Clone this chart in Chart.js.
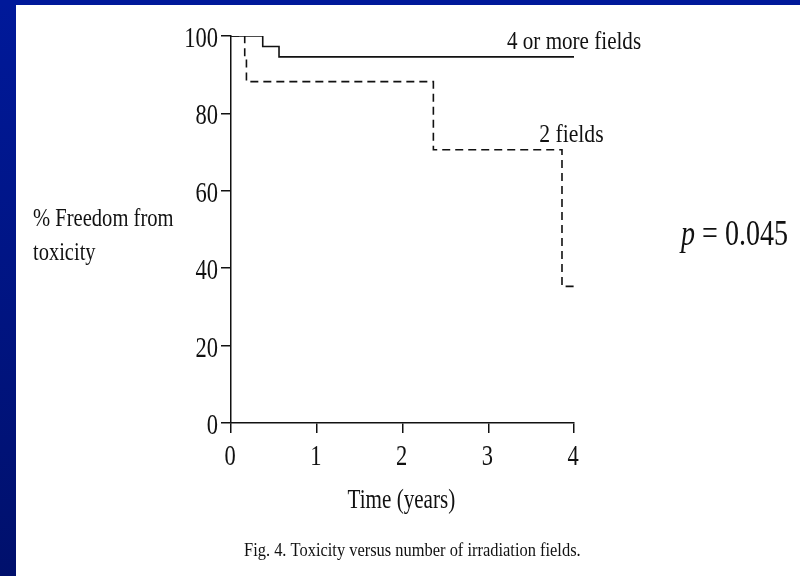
<!DOCTYPE html>
<html>
<head>
<meta charset="utf-8">
<script src="https://cdn.jsdelivr.net/npm/chart.js@4/dist/chart.umd.min.js"></script>
<style>
  html, body { margin: 0; padding: 0; background: #fff; }
  #wrap { width: 800px; height: 576px; position: relative; }
  canvas { display: block; }
</style>
</head>
<body>
<div id="wrap"><canvas id="km" width="800" height="576"></canvas></div>
<script>
// Kaplan-Meier estimates: event times (years) and survival (%) after each event
const timeMany = [0, 0.37, 0.56, 4.0];
const freedomMany = [100, 97.3, 94.6, 94.6];
const timeTwo = [0, 0.16, 0.18, 2.36, 3.86, 4.0];
const freedomTwo = [100, 94.1, 88.2, 70.6, 35.3, 35.3];

const xTicks = [0, 1, 2, 3, 4];
const yTicks = [0, 20, 40, 60, 80, 100];

const seriesNames = ['4 or more fields', '2 fields'];
const yTitleLines = ['% Freedom from', 'toxicity'];
const xTitle = 'Time (years)';
const pValue = '0.045';
const caption = 'Fig. 4. Toxicity versus number of irradiation fields.';

const SERIF = '"Liberation Serif", "Times New Roman", serif';
const INK = '#111';

const toPoints = (xs, ys) => xs.map((x, i) => ({ x: x, y: ys[i] }));

// draw text squeezed horizontally so that its ink spans a given width
function fitText(ctx, text, left, baseline, font, width) {
  ctx.save();
  ctx.font = font;
  ctx.textAlign = 'left';
  ctx.textBaseline = 'alphabetic';
  const m = ctx.measureText(text);
  const ink = m.actualBoundingBoxLeft + m.actualBoundingBoxRight;
  const s = width / ink;
  ctx.translate(left, baseline);
  ctx.scale(s, 1);
  ctx.fillText(text, m.actualBoundingBoxLeft, 0);
  ctx.restore();
}

// draw text with a fixed horizontal squeeze and alignment
function squeezedText(ctx, text, x, baseline, font, sx, align) {
  ctx.save();
  ctx.font = font;
  ctx.textAlign = align;
  ctx.textBaseline = 'alphabetic';
  ctx.translate(x, baseline);
  ctx.scale(sx, 1);
  ctx.fillText(text, 0, 0);
  ctx.restore();
}

const slideFrame = {
  id: 'slideFrame',
  beforeDraw(chart) {
    const ctx = chart.ctx;
    const w = chart.width, h = chart.height;
    ctx.save();
    ctx.fillStyle = '#ffffff';
    ctx.fillRect(0, 0, w, h);
    const g = ctx.createLinearGradient(0, 0, 0, h);
    g.addColorStop(0, '#00199a');
    g.addColorStop(1, '#00106c');
    ctx.fillStyle = g;
    ctx.fillRect(0, 0, 16, h);
    ctx.fillStyle = '#00199a';
    ctx.fillRect(0, 0, w, 5);
    ctx.restore();
  }
};

const annotations = {
  id: 'annotations',
  afterDraw(chart) {
    const ctx = chart.ctx;
    const xs = chart.scales.x, ys = chart.scales.y;
    ctx.save();
    ctx.fillStyle = INK;

    // tick labels
    yTicks.forEach(v => {
      const py = ys.getPixelForValue(v);
      squeezedText(ctx, String(v), 218, py + 11, '30px ' + SERIF, 0.75, 'right');
    });
    xTicks.forEach(v => {
      const px = xs.getPixelForValue(v);
      squeezedText(ctx, String(v), px - 1, 465, '30px ' + SERIF, 0.75, 'center');
    });

    // axis titles
    const midX = (chart.chartArea.left + chart.chartArea.right) / 2;
    fitText(ctx, xTitle, midX - 55, 508, '27px ' + SERIF, 107);
    fitText(ctx, yTitleLines[0], 33, 226, '25px ' + SERIF, 141);
    fitText(ctx, yTitleLines[1], 33, 260, '25px ' + SERIF, 63);

    // curve labels
    fitText(ctx, seriesNames[0], 507, 49, '26px ' + SERIF, 134);
    fitText(ctx, seriesNames[1], 540, 142, '25px ' + SERIF, 63);

    // p-value
    ctx.font = 'italic 35px ' + SERIF;
    const pW = ctx.measureText('p').width;
    ctx.font = '35px ' + SERIF;
    const rest = ' = ' + pValue;
    const rW = ctx.measureText(rest).width;
    const s = 107 / (pW + rW);
    ctx.save();
    ctx.translate(681, 245);
    ctx.scale(s, 1);
    ctx.textBaseline = 'alphabetic';
    ctx.textAlign = 'left';
    ctx.font = 'italic 35px ' + SERIF;
    ctx.fillText('p', 0, 0);
    ctx.font = '35px ' + SERIF;
    ctx.fillText(rest, pW, 0);
    ctx.restore();

    // figure caption
    fitText(ctx, caption, 244, 556, '19px ' + SERIF, 336);
    ctx.restore();
  }
};

new Chart(document.getElementById('km'), {
  type: 'line',
  data: {
    datasets: [
      {
        label: seriesNames[0],
        data: toPoints(timeMany, freedomMany),
        stepped: true,
        borderColor: '#111',
        borderWidth: 1.6,
        pointRadius: 0,
        fill: false
      },
      {
        label: seriesNames[1],
        data: toPoints(timeTwo, freedomTwo),
        stepped: true,
        borderColor: '#111',
        borderWidth: 1.6,
        borderDash: [8, 5],
        pointRadius: 0,
        fill: false
      }
    ]
  },
  options: {
    responsive: false,
    animation: false,
    events: [],
    layout: { padding: { left: 0, top: 36, right: 226, bottom: 0 } },
    plugins: {
      legend: { display: false },
      tooltip: { enabled: false }
    },
    scales: {
      x: {
        type: 'linear',
        min: 0,
        max: 4,
        afterBuildTicks: s => { s.ticks = xTicks.map(v => ({ value: v })); },
        afterFit: s => { s.height = 153; },
        ticks: { display: false },
        grid: { drawOnChartArea: false, drawTicks: true, tickLength: 10, color: '#111', lineWidth: 1.5 },
        border: { display: true, color: '#111', width: 1.5 }
      },
      y: {
        type: 'linear',
        min: 0,
        max: 100,
        afterBuildTicks: s => { s.ticks = yTicks.map(v => ({ value: v })); },
        afterFit: s => { s.width = 231; },
        ticks: { display: false },
        grid: { drawOnChartArea: false, drawTicks: true, tickLength: 10, color: '#111', lineWidth: 1.5 },
        border: { display: true, color: '#111', width: 1.5 }
      }
    }
  },
  plugins: [slideFrame, annotations]
});
</script>
</body>
</html>
